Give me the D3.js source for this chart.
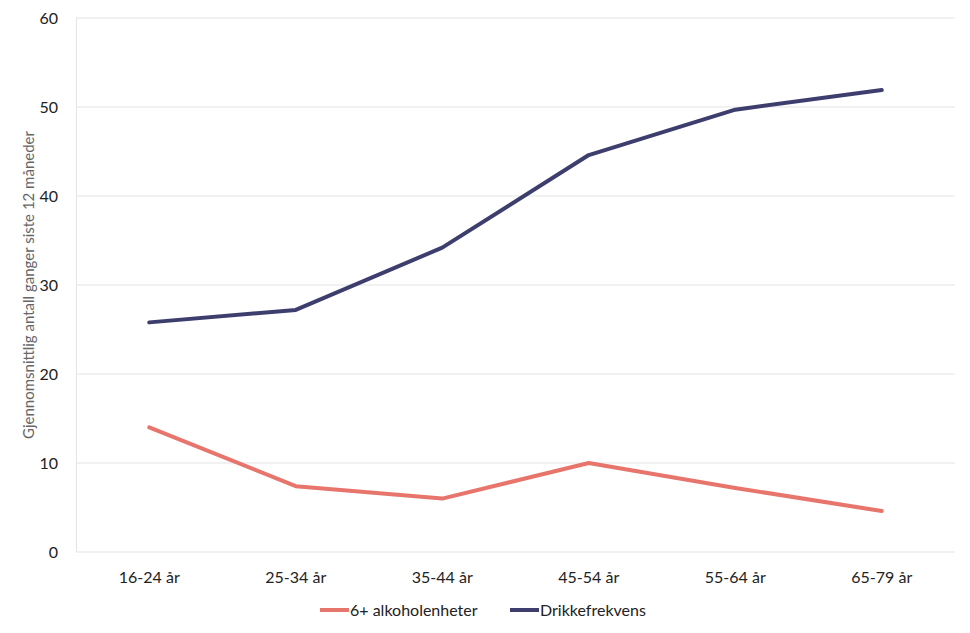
<!DOCTYPE html>
<html><head><meta charset="utf-8">
<script src="https://cdn.jsdelivr.net/npm/d3@7"></script>
<style>body{margin:0;background:#fff;} svg{font-family:Lato, "Open Sans", sans-serif;}</style>
</head><body><svg id="c" width="970" height="633"></svg>
<script>
const categories = ["16-24 år","25-34 år","35-44 år","45-54 år","55-64 år","65-79 år"];
const seriesNames = ["6+ alkoholenheter","Drikkefrekvens"];
const binge = [14.0, 7.4, 6.0, 10.0, 7.2, 4.6];
const frekvens = [25.8, 27.2, 34.2, 44.6, 49.7, 51.9];
const yTicks = [0,10,20,30,40,50,60];
const colors = ["#E8756C","#3E3E6E"];
const yTitle = "Gjennomsnittlig antall ganger siste 12 måneder";

const svg = d3.select("#c");
const L=76, R=955, T=18, B=552;
const x = d3.scalePoint().domain(categories).range([L,R]).padding(0.5);
const y = d3.scaleLinear().domain([0,60]).range([B,T]);

svg.append("g").selectAll("line").data(yTicks).join("line")
  .attr("x1",L).attr("x2",R).attr("y1",d=>y(d)).attr("y2",d=>y(d))
  .attr("stroke","#e3e3e3").attr("stroke-width",1);
svg.append("line").attr("x1",L+0.5).attr("x2",L+0.5).attr("y1",T).attr("y2",B).attr("stroke","#e3e3e3");

svg.append("g").selectAll("text").data(yTicks).join("text")
  .attr("x",58).attr("y",d=>y(d)).attr("dy","0.35em").attr("text-anchor","end")
  .attr("font-size",16).attr("fill","#222").text(d=>d);

svg.append("g").selectAll("text").data(categories).join("text")
  .attr("x",d=>x(d)).attr("y",583).attr("text-anchor","middle")
  .attr("font-size",16).attr("fill","#222").text(d=>d);

svg.append("text").attr("transform",`translate(34,285) rotate(-90)`)
  .attr("text-anchor","middle").attr("font-size",15).attr("fill","#666").text(yTitle);

const line = d3.line().x((d,i)=>x(categories[i])).y(d=>y(d));
[binge,frekvens].forEach((s,i)=>{
  svg.append("path").datum(s).attr("d",line).attr("fill","none")
    .attr("stroke",colors[i]).attr("stroke-width",4).attr("stroke-linecap","round").attr("stroke-linejoin","round");
});

const leg = svg.append("g");
const legX = [320, 510];
seriesNames.forEach((n,i)=>{
  leg.append("line").attr("x1",legX[i]).attr("x2",legX[i]+29).attr("y1",610).attr("y2",610)
    .attr("stroke",colors[i]).attr("stroke-width",4);
  leg.append("text").attr("x",legX[i]+30).attr("y",610).attr("dy","0.35em")
    .attr("font-size",16).attr("fill","#222").text(n);
});
</script></body></html>
